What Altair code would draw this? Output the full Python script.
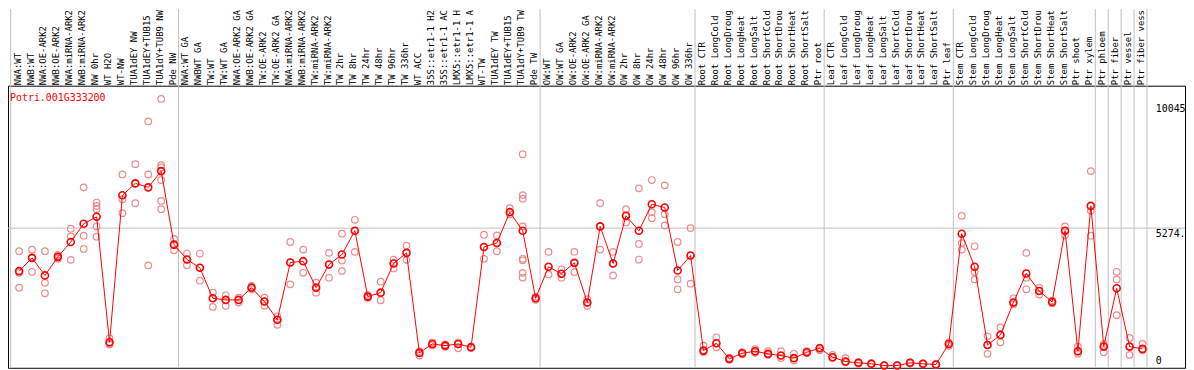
import json
import altair as alt
import pandas as pd

GENE = "Potri.001G333200"

# Column labels as they are visible in the reference (long names are cut at the top edge there)
LABELS = [
    "NWA:WT", "NWB:WT", "NWA:OE-ARK2", "NWB:OE-ARK2", "NWA:miRNA-ARK2", "NWB:miRNA-ARK2",
    "NW 0hr", "WT H2O", "WT-NW", "TUA1dEY NW", "TUA1dEY+TUB15", "TUA1dY+TUB9 NW", "Pde NW",
    "NWA:WT GA", "NWBWT GA", "TW:WT", "TW:WT GA", "NWA:OE-ARK2 GA", "NWB:OE-ARK2 GA",
    "TW:OE-ARK2", "TW:OE-ARK2 GA", "NWA:miRNA-ARK2", "NWB:miRNA-ARK2", "TW:miRNA-ARK2",
    "TW:miRNA-ARK2", "TW 2hr", "TW 8hr", "TW 24hr", "TW 48hr", "TW 96hr", "TW 336hr",
    "WT ACC", "35S::etr1-1 H2", "35S::etr1-1 AC", "LMX5::etr1-1 H", "LMX5::etr1-1 A",
    "WT-TW", "TUA1dEY TW", "TUA1dEY+TUB15", "TUA1dY+TUB9 TW", "Pde TW",
    "OW:WT", "OW:WT GA", "OW:OE-ARK2", "OW:OE-ARK2 GA", "OW:miRNA-ARK2", "OW:miRNA-ARK2",
    "OW 2hr", "OW 8hr", "OW 24hr", "OW 48hr", "OW 96hr", "OW 336hr",
    "Root CTR", "Root LongCold", "Root LongDroug", "Root LongHeat", "Root LongSalt",
    "Root ShortCold", "Root ShortDrou", "Root ShortHeat", "Root ShortSalt", "Ptr root",
    "Leaf CTR", "Leaf LongCold", "Leaf LongDroug", "Leaf LongHeat", "Leaf LongSalt",
    "Leaf ShortCold", "Leaf ShortDrou", "Leaf ShortHeat", "Leaf ShortSalt", "Ptr leaf",
    "Stem CTR", "Stem LongCold", "Stem LongDroug", "Stem LongHeat", "Stem LongSalt",
    "Stem ShortCold", "Stem ShortDrou", "Stem ShortHeat", "Stem ShortSalt", "Ptr shoot",
    "Ptr xylem", "Ptr phloem", "Ptr fiber", "Ptr vessel", "Ptr fiber vess",
]

MEANS = [
    3627, 4135, 3462, 4173, 4743, 5441, 5707, 900, 6532, 6988, 6836, 7458, 4642,
    4071, 3754, 2587, 2524, 2524, 2993, 2461, 1763, 3957, 4008, 2993, 3881, 4262, 5175,
    2651, 2803, 3919, 4325, 495, 837, 774, 837, 710, 4553, 4705, 5885, 5175, 2587,
    3792, 3526, 3944, 2422, 5340, 3919, 5745, 5175, 6189, 6062, 3653, 4223,
    583, 862, 266, 482, 558, 457, 393, 292, 520, 672,
    330, 165, 114, 76, 10, 10, 114, 76, 51, 837,
    5061, 3792, 799, 1180, 2422, 3538, 2866, 2448, 5175, 558, 6126,
    736, 2968, 736, 647,
]

REPS = [
    [4388, 3564, 2993], [4452, 4135, 3602], [4388, 3183, 2778], [4250, 4100, 4173],
    [5251, 4959, 4059], [6836, 4984, 4477], [6253, 6126, 6000, 5340, 4946], [1053, 812, 850],
    [7331, 6380, 5847], [7724, 6227, 6988], [9360, 7331, 3843],
    [10223, 7686, 7600, 7115, 6316, 5999], [4858, 4426, 4642],
    [4300, 3856, 4071], [4300, 3260, 3754], [2803, 2257, 2587], [2701, 2296, 2524],
    [2613, 2422, 2524], [3060, 2930, 2993], [2613, 2296, 2461], [1890, 1573, 1763],
    [4743, 3120, 3957], [4452, 3564, 4008], [3183, 2803, 2993], [4325, 3374, 3881],
    [5061, 4033, 3627], [5593, 4363, 5175], [2720, 2600, 2651], [3222, 2511, 2803],
    [4071, 3729, 3919], [4604, 4059, 4325], [393, 560, 495], [900, 780, 837],
    [820, 730, 774], [900, 672, 837], [740, 680, 710], [5022, 4097, 4553],
    [4997, 4388, 4705], [6037, 5885, 5800],
    [8104, 6540, 6400, 5340, 4100, 4040, 3560, 3380], [2587, 2650, 2530],
    [4363, 3500, 3792], [3691, 3374, 3526], [4363, 3589, 3944], [2549, 2300, 2422],
    [6227, 4452, 5340], [4363, 3462, 3919], [5999, 5492, 5745], [6798, 4667, 4071],
    [7115, 5885, 5657], [6912, 5809, 5378], [4743, 3310, 2930], [5276, 3145, 4223],
    [774, 583, 520], [1091, 710, 862], [266, 300, 230], [482, 520, 440], [640, 558, 500],
    [560, 457, 420], [560, 300, 393], [460, 292, 200], [520, 560, 480], [600, 672, 700],
    [420, 330, 300], [292, 165, 140], [114, 140, 90], [76, 100, 60], [10, 30, 0],
    [10, 30, 0], [114, 130, 90], [76, 90, 60], [51, 70, 30], [900, 837, 760],
    [5745, 4700, 4452], [4578, 3589, 3310], [1129, 799, 457], [1471, 1180, 900],
    [2587, 2422, 2350], [4325, 3374, 2930], [2993, 2866, 2727], [2500, 2448, 2400],
    [5340, 5175, 4997], [736, 558, 457], [7458, 5936, 4984],
    [836, 736, 520], [3602, 3310, 1941], [1065, 736, 419], [837, 647, 600],
]

GROUP_BOUNDS = [0, 13, 41, 53, 63, 73, 84, 85, 86, 87, 88]
REF_VALUE = 5274
Y_TICKS = [0, 5274, 10045]

FONT = "DejaVu Sans Mono"
RED = "#ff0000"
REP_COLOR = "#eb8c8c"
GRID = "#c0c0c0"

idx = list(range(len(LABELS)))
df_mean = pd.DataFrame({"i": idx, "label": LABELS, "value": MEANS})
df_rep = pd.DataFrame([{"i": i, "value": v} for i, reps in enumerate(REPS) for v in reps])
df_bounds = pd.DataFrame({"i": [k - 0.5 for k in GROUP_BOUNDS]})
df_ref = pd.DataFrame({"value": [REF_VALUE]})
df_gene = pd.DataFrame({"gene": [GENE]})

xscale = alt.Scale(domain=[-0.7077, 90.446], nice=False, zero=False)
yscale = alt.Scale(domain=[-76, 10730], nice=False, zero=False)

label_expr = "[" + ",".join(json.dumps(l) for l in LABELS) + "][datum.value]"

x_axis = alt.Axis(
    orient="top", values=idx, labelExpr=label_expr, labelAngle=-90,
    labelAlign="left", labelBaseline="middle", labelPadding=1,
    labelOverlap=False, labelBound=False, labelFlush=False,
    ticks=False, domain=False, grid=False, title=None,
    labelFont=FONT, labelFontSize=9, labelColor="black",
)
y_axis = alt.Axis(
    orient="right", offset=-30, values=Y_TICKS,
    labelExpr="datum.value == 5274 ? '5274.' : format(datum.value, 'd')",
    labelAlign="left",
    labelBaseline={"condition": {"test": "datum.value == 0", "value": "bottom"}, "value": "top"},
    labelPadding=0, ticks=False, domain=False, grid=False, title=None,
    labelFont=FONT, labelFontSize=10, labelColor="black", labelOverlap=False,
)

X = alt.X("i:Q", scale=xscale, axis=x_axis)
Y = alt.Y("value:Q", scale=yscale, axis=y_axis)

bounds = alt.Chart(df_bounds).mark_rule(color=GRID, strokeWidth=1).encode(
    x=X, y=alt.value(-77), y2=alt.value(284),
)
ref = alt.Chart(df_ref).mark_rule(color=GRID, strokeWidth=1).encode(y=Y)
reps = alt.Chart(df_rep).mark_point(
    shape="circle", filled=False, color=REP_COLOR, size=44, strokeWidth=1.2, xOffset=2, opacity=1
).encode(x=X, y=Y)
line = alt.Chart(df_mean).mark_line(color=RED, strokeWidth=1, xOffset=2).encode(x=X, y=Y)
means = alt.Chart(df_mean).mark_point(
    shape="circle", filled=False, color=RED, size=50, strokeWidth=1.6, xOffset=2, opacity=1
).encode(x=X, y=Y)
gene = alt.Chart(df_gene).mark_text(
    align="left", baseline="middle", font=FONT, fontSize=10, color=RED
).encode(x=alt.value(2), y=alt.value(12), text="gene:N")

chart = alt.layer(bounds, ref, reps, line, means, gene).properties(
    width=1185, height=284,
    autosize=alt.AutoSizeParams(type="none"),
    padding={"left": 0, "top": 77, "right": 1, "bottom": 1},
    background="white",
).configure_view(stroke="black", strokeWidth=1)

chart.save("out.html", embed_options={"renderer": "svg", "actions": False})
